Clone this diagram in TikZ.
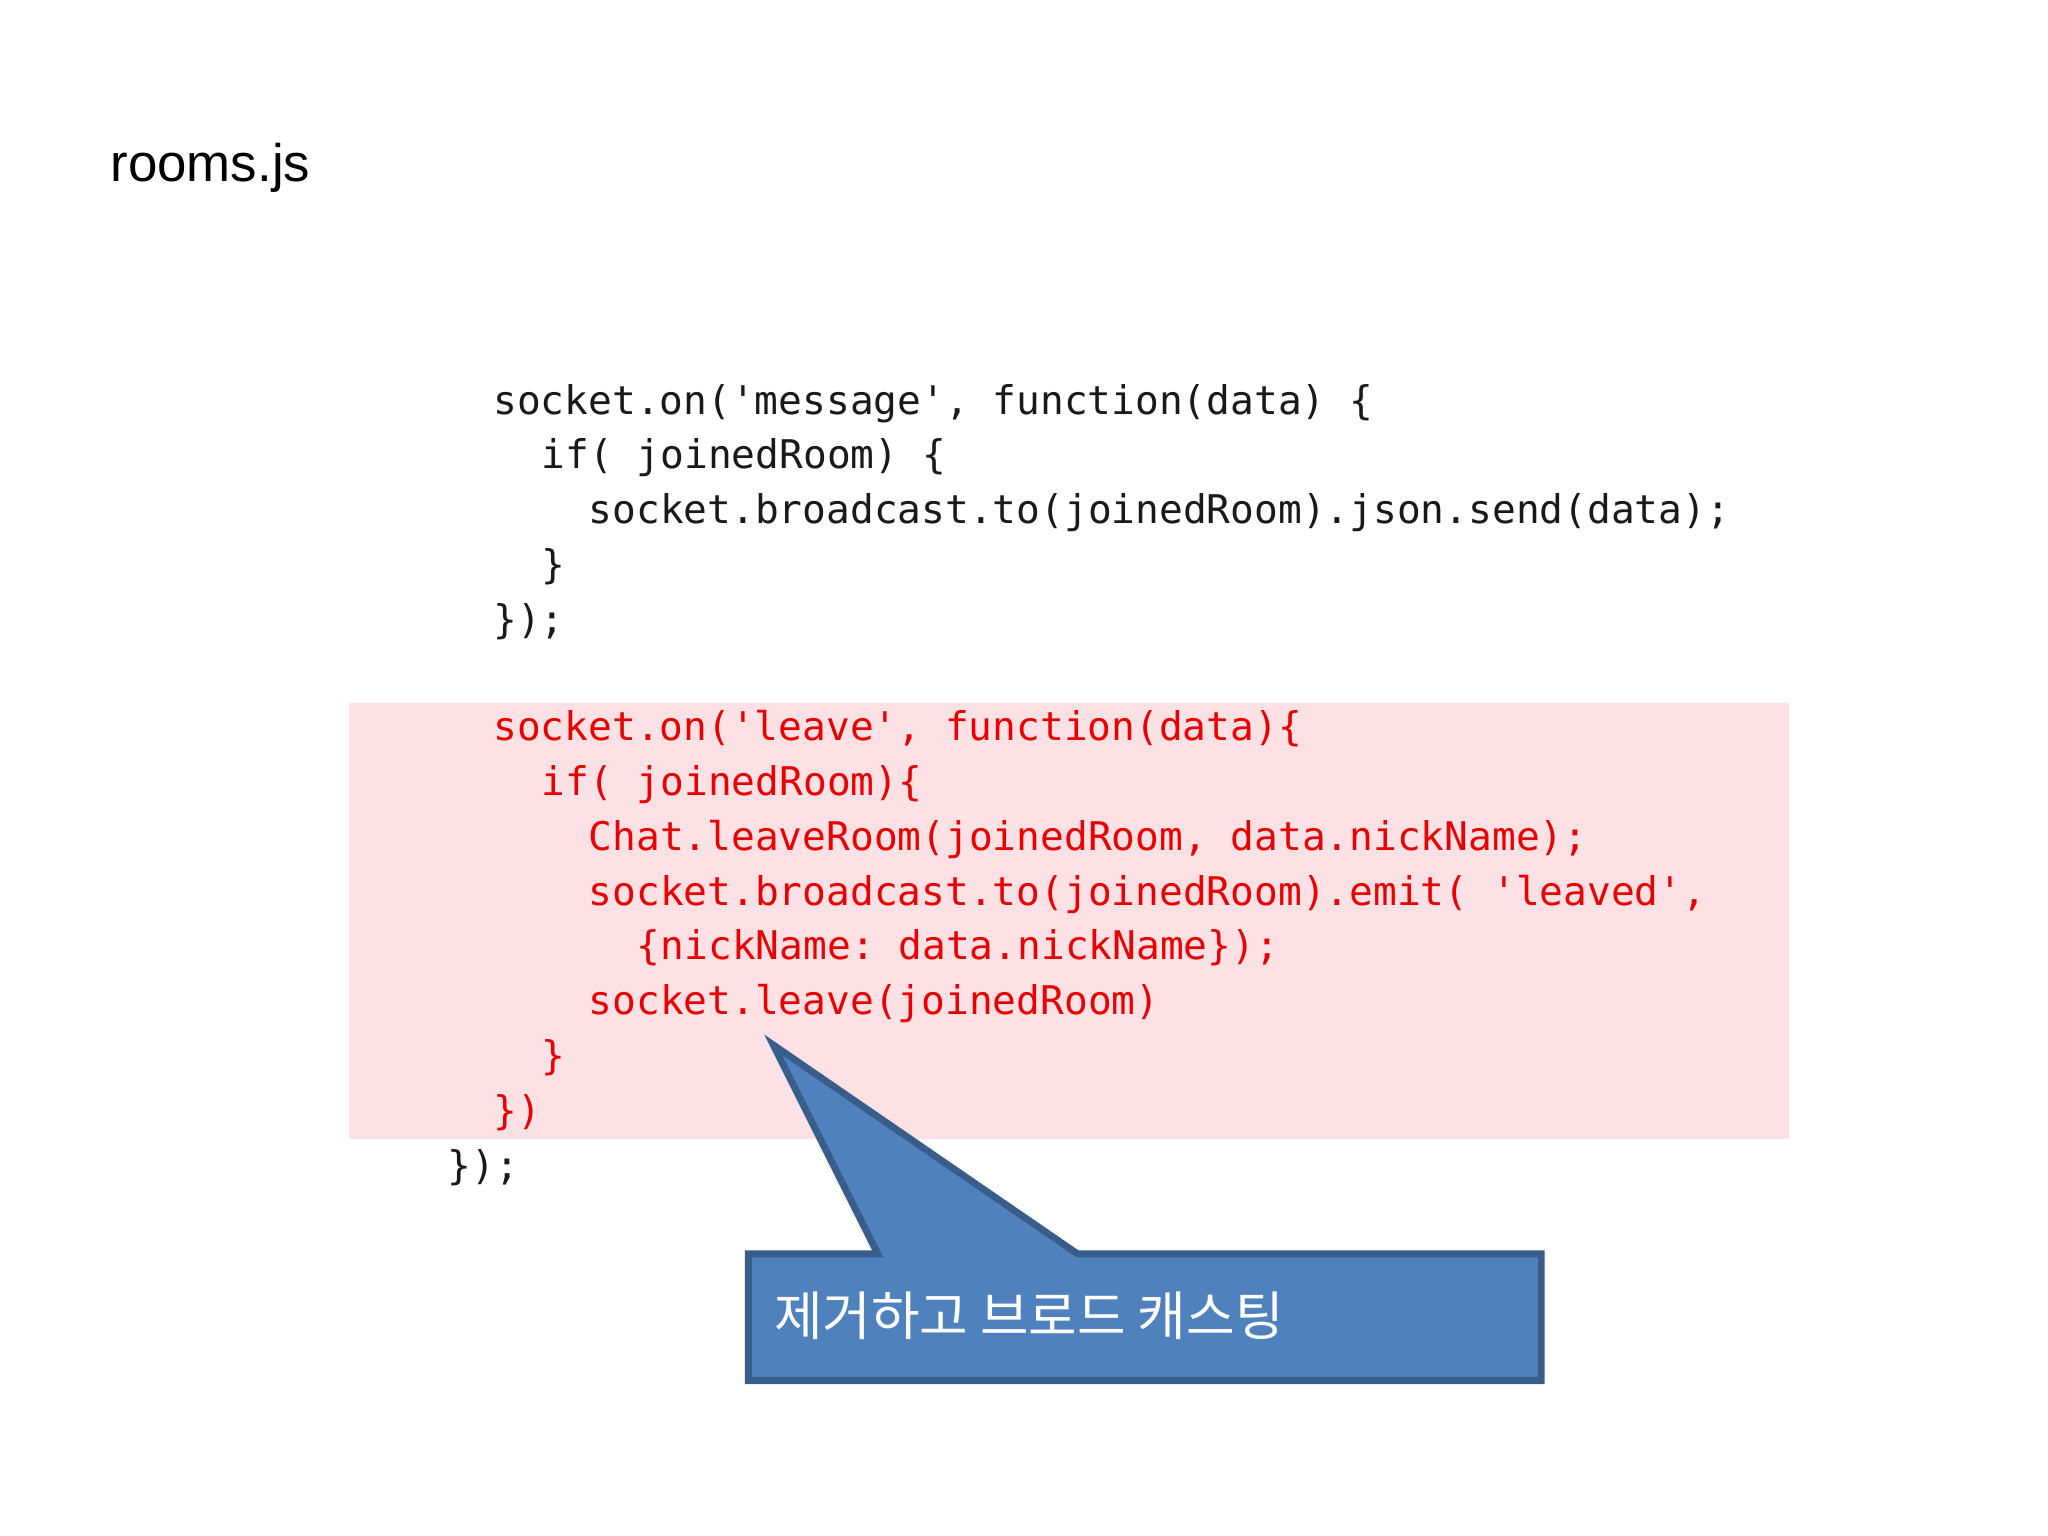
\documentclass[tikz,border=0pt]{standalone}
\usepackage{fontspec}
\setmainfont{Liberation Sans}
\setmonofont{DejaVu Sans Mono}
\newfontfamily\kr{Noto Sans CJK KR}
\definecolor{pinkbg}{RGB}{253,225,228}
\definecolor{codered}{RGB}{232,0,0}
\definecolor{codeblk}{RGB}{25,25,25}
\definecolor{callfill}{RGB}{79,129,189}
\definecolor{calldraw}{RGB}{56,93,138}
\begin{document}
\begin{tikzpicture}[x=0.01cm,y=-0.01cm,
  code/.style={anchor=base west,inner sep=0pt,font=\ttfamily\fontsize{8.6}{10}\selectfont,text=codeblk},
  rcode/.style={code,text=codered}]
\useasboundingbox (0,0) rectangle (1568,1176);
\fill[white] (0,0) rectangle (1568,1176);
\node[anchor=base west,inner sep=0pt,font=\fontsize{11.5}{13}\selectfont] (title) at (84,139) {rooms.js};
\fill[pinkbg] (267,538) rectangle (1370,872);
\node[code] (l1) at (377,317) {socket.on('message', function(data) \{};
\node[code] (l2) at (414,359) {if( joinedRoom) \{};
\node[code] (l3) at (450,401) {socket.broadcast.to(joinedRoom).json.send(data);};
\node[code] (l4) at (414,443) {\}};
\node[code] (l5) at (377,485) {\});};
\node[rcode] (r1) at (377,567) {socket.on('leave', function(data)\{};
\node[rcode] (r2) at (414,609) {if( joinedRoom)\{};
\node[rcode] (r3) at (450,651) {Chat.leaveRoom(joinedRoom, data.nickName);};
\node[rcode] (r4) at (450,693) {socket.broadcast.to(joinedRoom).emit( 'leaved',};
\node[rcode] (r5) at (487,735) {\{nickName: data.nickName\});};
\node[rcode] (r6) at (450,777) {socket.leave(joinedRoom)};
\node[rcode] (r7) at (414,819) {\}};
\node[rcode] (r8) at (377,861) {\})};
\node[code] (l6) at (342,903) {\});};
\draw[fill=callfill,draw=calldraw,line width=1.5pt,line join=miter]
  (573,960)--(672,960)--(592,800)--(825,960)--(1180,960)--(1180,1057)--(573,1057)--cycle;
\node[anchor=west,inner sep=0pt,text=white,font=\kr\fontsize{11.5}{13}\selectfont] (callout) at (592,1007) {제거하고 브로드 캐스팅};
\end{tikzpicture}
\end{document}
